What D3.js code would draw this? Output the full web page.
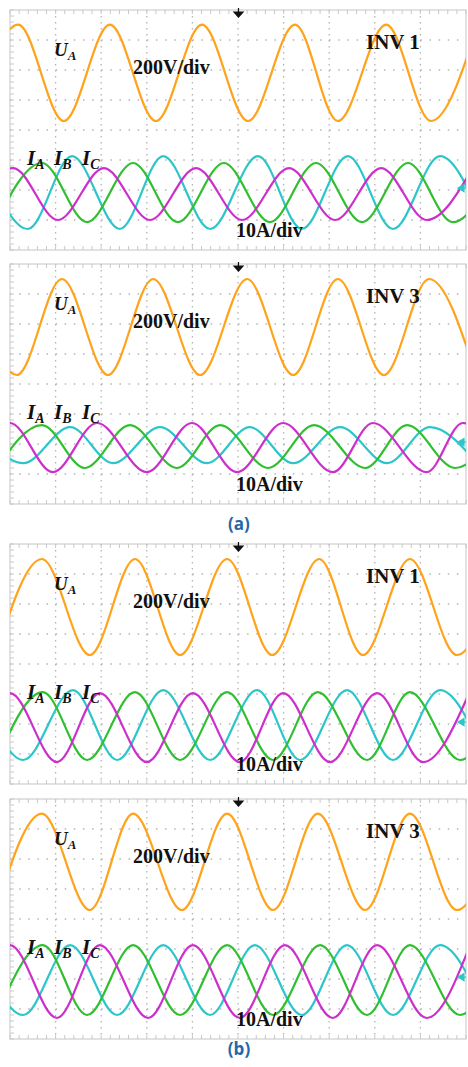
<!DOCTYPE html>
<html>
<head>
<meta charset="utf-8">
<script src="https://cdn.jsdelivr.net/npm/d3@7"></script>
<style>
  html, body { margin: 0; padding: 0; background: #fff; }
  svg { display: block; }
</style>
</head>
<body>
<svg id="chart" width="468" height="1067"></svg>
<script>
// Oscilloscope captures: phase voltage U_A (200 V/div) and three-phase currents
// I_A, I_B, I_C (10 A/div), 10 ms/div. Each trace is given as its successive
// extrema [time ms, value] as read from the screen.

// ---- (a) INV 1 ----
const a1_UA = [[-8.3,-320],[1.8,322],[11.8,-320],[21.9,322],[32.0,-320],[42.1,322],[52.2,-320],[62.5,322],[71.9,-320],[82.5,322],[92.3,-320],[102.6,322]];
const a1_IA = [[-9.4,-9.3],[0.7,8.0],[10.5,-9.3],[20.6,8.0],[30.7,-9.3],[40.8,8.0],[50.9,-9.3],[61.2,8.0],[71.3,-9.3],[81.4,8.0],[91.4,-9.3],[101.5,8.0]];
const a1_IB = [[-3.1,-10.0],[7.0,9.7],[16.9,-10.0],[27.0,9.7],[36.8,-10.0],[46.9,9.7],[57.0,-10.0],[67.1,9.7],[77.2,-10.0],[87.3,9.7],[97.1,-10.0],[107.2,9.7]];
const a1_IC = [[-6.1,12.0],[3.9,-12.3],[13.6,12.0],[24.1,-12.3],[33.6,12.0],[43.9,-12.3],[54.4,12.0],[64.0,-12.3],[74.1,12.0],[84.0,-12.3],[94.3,12.0],[104.2,-12.3]];

// ---- (a) INV 3 ----
const a3_UA = [[-8.6,320],[1.5,-320],[11.4,320],[21.5,-320],[31.4,320],[41.7,-320],[52.0,320],[62.1,-320],[71.9,320],[82.0,-320],[91.9,320],[102.2,-320]];
const a3_IA = [[-9.9,-8.7],[0.0,7.7],[9.4,-8.7],[19.1,7.7],[30.0,-8.7],[39.9,7.7],[49.8,-8.7],[59.9,7.7],[70.8,-8.7],[79.6,7.7],[91.4,-8.7],[99.3,7.7],[109.6,-8.7]];
const a3_IB = [[-2.9,-7.3],[7.0,7.0],[16.4,-7.3],[26.3,7.0],[36.6,-7.3],[46.1,7.0],[56.6,-7.3],[66.7,7.0],[77.9,-7.3],[87.1,7.0],[97.6,-7.3],[107.5,7.0]];
const a3_IC = [[-7.0,6.3],[2.9,-5.7],[13.2,6.3],[22.6,-5.7],[32.9,6.3],[43.2,-5.7],[52.6,6.3],[62.1,-5.7],[72.4,6.3],[82.7,-5.7],[92.1,6.3],[102.4,-5.7]];

// ---- (b) INV 1 ----
const b1_UA = [[-3.1,-320],[7.0,320],[17.5,-320],[27.4,320],[37.3,-320],[47.6,320],[57.5,-320],[67.8,320],[77.4,-320],[87.7,320],[98.0,-320],[108.1,320]];
const b1_IA = [[-10.1,-12.0],[0.0,11.0],[10.3,-12.0],[19.7,11.0],[30.0,-12.0],[40.1,11.0],[50.4,-12.0],[59.9,11.0],[70.2,-12.0],[80.5,11.0],[90.6,-12.0],[100.7,11.0]];
const b1_IB = [[-2.9,-11.3],[7.2,11.3],[16.9,-11.3],[27.4,11.3],[37.3,-11.3],[47.6,11.3],[57.7,-11.3],[67.5,11.3],[78.3,-11.3],[87.7,11.3],[98.7,-11.3],[108.3,11.3]];
const b1_IC = [[-6.6,12.0],[2.9,-11.3],[13.8,12.0],[23.5,-11.3],[33.6,12.0],[43.9,-11.3],[54.2,12.0],[63.6,-11.3],[73.9,12.0],[84.0,-11.3],[94.3,12.0],[104.4,-11.3]];

// ---- (b) INV 3 ----
const b3_UA = [[-3.1,-320],[7.0,322],[17.5,-320],[27.0,322],[37.7,-320],[47.6,322],[57.7,-320],[67.5,322],[77.9,-320],[87.7,322],[98.0,-320],[108.1,322]];
const b3_IA = [[-10.1,-12.3],[0.0,12.0],[10.3,-12.3],[19.7,12.0],[30.3,-12.3],[40.1,12.0],[50.4,-12.3],[60.3,12.0],[70.8,-12.3],[80.5,12.0],[91.4,-12.3],[100.9,12.0]];
const b3_IB = [[-2.9,-11.3],[7.2,12.0],[16.9,-11.3],[27.0,12.0],[37.3,-11.3],[47.6,12.0],[57.7,-11.3],[68.0,12.0],[78.3,-11.3],[87.7,12.0],[98.7,-11.3],[108.3,12.0]];
const b3_IC = [[-7.0,12.0],[2.9,-11.3],[13.2,12.0],[23.5,-11.3],[33.6,12.0],[43.9,-11.3],[53.7,12.0],[64.0,-11.3],[73.9,12.0],[84.0,-11.3],[94.3,12.0],[104.4,-11.3]];

// Text
const panelTitles = ["INV 1", "INV 3", "INV 1", "INV 3"];
const voltScaleLabel = "200V/div";
const currScaleLabel = "10A/div";
const captions = ["(a)", "(b)"];

// Scope settings
const timePerDiv = 10;      // ms
const voltPerDiv = 200;     // V
const ampPerDiv = 10;       // A
const hDivs = 10, vDivs = 8;
const voltGroundDiv = 1.9;  // channel ground above screen centre
const currGroundDiv = -2.07;

// Layout
const screenLeft = 10, screenRight = 466, screenH = 240;
const panelTops = [10, 264, 544, 799];
const captionY = [530, 1055];

const traceColors = { U: "#ffa31a", A: "#cc2fcc", B: "#2fbf2f", C: "#2cc6ca" };

const panelsData = [
  { U: a1_UA, A: a1_IA, B: a1_IB, C: a1_IC },
  { U: a3_UA, A: a3_IA, B: a3_IB, C: a3_IC },
  { U: b1_UA, A: b1_IA, B: b1_IB, C: b1_IC },
  { U: b3_UA, A: b3_IA, B: b3_IB, C: b3_IC }
];

const svg = d3.select("#chart");
const x = d3.scaleLinear().domain([0, hDivs * timePerDiv]).range([screenLeft, screenRight]);
const serif = "'Liberation Serif', 'Times New Roman', serif";

panelsData.forEach((pd, i) => {
  const top = panelTops[i];
  const g = svg.append("g");

  const yDiv = d3.scaleLinear().domain([-vDivs / 2, vDivs / 2]).range([top + screenH, top]);
  const yV = d3.scaleLinear()
    .domain([(-vDivs / 2 - voltGroundDiv) * voltPerDiv, (vDivs / 2 - voltGroundDiv) * voltPerDiv])
    .range([top + screenH, top]);
  const yI = d3.scaleLinear()
    .domain([(-vDivs / 2 - currGroundDiv) * ampPerDiv, (vDivs / 2 - currGroundDiv) * ampPerDiv])
    .range([top + screenH, top]);

  // screen frame
  g.append("rect")
    .attr("x", screenLeft).attr("y", top)
    .attr("width", screenRight - screenLeft).attr("height", screenH)
    .attr("fill", "#fff").attr("stroke", "#cfcfcf").attr("stroke-width", 1.2);

  // graticule: dotted division lines with minor ticks every 1/5 division
  const xDivs = d3.range(1, hDivs).map(k => k * timePerDiv);
  const yDivs = d3.range(-vDivs / 2 + 1, vDivs / 2);
  const minorX = x(timePerDiv / 5) - x(0);
  const minorY = yDiv(0) - yDiv(0.2);

  g.selectAll(".vgrid").data(xDivs).join("line")
    .attr("x1", d => x(d)).attr("x2", d => x(d))
    .attr("y1", top).attr("y2", top + screenH)
    .attr("stroke", "#b4b4b4").attr("stroke-width", 1.3)
    .attr("stroke-dasharray", `1.5,${minorY - 1.5}`);
  g.selectAll(".hgrid").data(yDivs).join("line")
    .attr("x1", screenLeft).attr("x2", screenRight)
    .attr("y1", d => yDiv(d)).attr("y2", d => yDiv(d))
    .attr("stroke", "#b4b4b4").attr("stroke-width", 1.3)
    .attr("stroke-dasharray", `1.5,${minorX - 1.5}`);

  // minor tick marks on the frame edges
  const minorYs = d3.range(-vDivs / 2 * 5, vDivs / 2 * 5 + 1).map(k => k / 5);
  const minorXs = d3.range(0, hDivs * 5 + 1).map(k => k * timePerDiv / 5);
  g.selectAll(".lt").data(minorYs).join("line")
    .attr("x1", screenLeft).attr("x2", screenLeft + 4)
    .attr("y1", d => yDiv(d)).attr("y2", d => yDiv(d))
    .attr("stroke", "#c8c8c8").attr("stroke-width", 1);
  g.selectAll(".bt").data(minorXs).join("line")
    .attr("x1", d => x(d)).attr("x2", d => x(d))
    .attr("y1", top + screenH - 4).attr("y2", top + screenH)
    .attr("stroke", "#c8c8c8").attr("stroke-width", 1);
  g.selectAll(".tt").data(minorXs).join("line")
    .attr("x1", d => x(d)).attr("x2", d => x(d))
    .attr("y1", top).attr("y2", top + 4)
    .attr("stroke", "#c8c8c8").attr("stroke-width", 1);

  // traces, clipped to the screen
  const clipId = "clip" + i;
  svg.append("clipPath").attr("id", clipId)
    .append("rect").attr("x", screenLeft).attr("y", top)
    .attr("width", screenRight - screenLeft).attr("height", screenH);

  const traces = g.append("g").attr("clip-path", `url(#${clipId})`);
  const lineV = d3.line().x(d => x(d[0])).y(d => yV(d[1])).curve(d3.curveMonotoneX);
  const lineI = d3.line().x(d => x(d[0])).y(d => yI(d[1])).curve(d3.curveMonotoneX);

  traces.append("path").attr("d", lineV(pd.U))
    .attr("fill", "none").attr("stroke", traceColors.U).attr("stroke-width", 2.2);
  ["C", "B", "A"].forEach(k => {
    traces.append("path").attr("d", lineI(pd[k]))
      .attr("fill", "none").attr("stroke", traceColors[k]).attr("stroke-width", 2.2);
  });

  // trigger position marker
  const tx = x(hDivs * timePerDiv / 2) + 0.5;
  g.append("path")
    .attr("d", `M${tx},${top - 2}V${top + 3}M${tx - 4.5},${top + 2}L${tx + 4.5},${top + 2}L${tx},${top + 7}Z`)
    .attr("stroke", "#111").attr("stroke-width", 1.2).attr("fill", "#111");

  // current channel ground marker
  const gy = yI(0) - 4;
  g.append("path")
    .attr("d", `M${screenRight - 8},${gy}L${screenRight - 2},${gy - 3.5}L${screenRight - 2},${gy + 3.5}Z M${screenRight - 3},${gy}H${screenRight}`)
    .attr("fill", traceColors.C).attr("stroke", traceColors.C).attr("stroke-width", 1.2);

  // labels
  const lab = g.append("g").attr("font-family", serif).attr("font-weight", "bold").attr("fill", "#111");

  const u = lab.append("text").attr("x", 54).attr("y", top + 46)
    .attr("font-style", "italic").attr("font-size", 19);
  u.append("tspan").text("U");
  u.append("tspan").attr("font-size", 13).attr("dy", 4).text("A");

  lab.append("text").attr("x", 133).attr("y", top + 64).attr("font-size", 20).text(voltScaleLabel);
  lab.append("text").attr("x", 366).attr("y", top + 39).attr("font-size", 21).text(panelTitles[i]);

  [["A", 27], ["B", 54], ["C", 82]].forEach(([ph, px]) => {
    const t = lab.append("text").attr("x", px).attr("y", top + 155)
      .attr("font-style", "italic").attr("font-size", 21);
    t.append("tspan").text("I");
    t.append("tspan").attr("font-size", 14).attr("dy", 4).text(ph);
  });

  lab.append("text").attr("x", 236).attr("y", top + 227).attr("font-size", 20).text(currScaleLabel);
});

// sub-figure captions
svg.selectAll(".cap").data(captions).join("text")
  .attr("x", 239).attr("y", (d, j) => captionY[j])
  .attr("text-anchor", "middle")
  .attr("font-family", "'Open Sans', 'Noto Sans', sans-serif")
  .attr("font-weight", "bold").attr("font-size", 17)
  .attr("fill", "#2467a8")
  .text(d => d);
</script>
</body>
</html>
